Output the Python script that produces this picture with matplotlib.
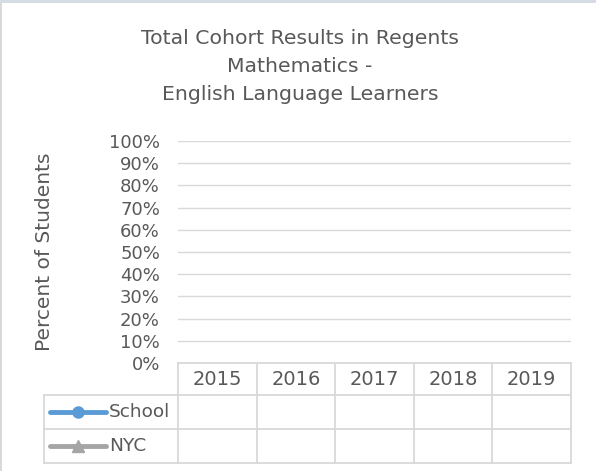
import numpy as np
import matplotlib.pyplot as plt
from matplotlib.lines import Line2D
from matplotlib.patches import Rectangle
from matplotlib.transforms import blended_transform_factory

years = ["2015", "2016", "2017", "2018", "2019"]
series = ["School", "NYC"]
school = [np.nan] * 5
nyc = [np.nan] * 5
yticks = np.arange(0, 1.01, 0.1)

colors = {"School": "#5B9BD5", "NYC": "#A5A5A5"}
markers = {"School": "o", "NYC": "^"}
txt = "#595959"
grid = "#D9D9D9"

plt.rcParams["font.family"] = ["DejaVu Sans"]

W, H = 596, 471
fig = plt.figure(figsize=(W / 100, H / 100), dpi=100)


def fx(px):
    return px / W


def fy(py):
    return 1 - py / H


# plot area in pixels
px0, px1, py_top, py_bot = 178, 571, 141, 363
ax = fig.add_axes([fx(px0), fy(py_bot), (px1 - px0) / W, (py_bot - py_top) / H])
ax.set_ylim(0, 1)
ax.set_xlim(-0.5, 4.5)
ax.set_yticks(yticks)
ax.set_yticklabels([f"{int(round(v * 100))}%" for v in yticks], color=txt, fontsize=13)
ax.tick_params(axis="y", length=0, pad=13)
ax.set_xticks([])
for s in ax.spines.values():
    s.set_visible(False)
ax.grid(axis="y", color=grid, linewidth=1.0)
ax.set_axisbelow(True)

x = np.arange(len(years))
ax.plot(x, school, color=colors["School"], marker="o")
ax.plot(x, nyc, color=colors["NYC"], marker="^")

ax.set_ylabel("Percent of Students", color=txt, fontsize=14.5)
ax.yaxis.set_label_coords((54 - px0) / (px1 - px0), 0.5)

# data table below the plot
tx0, tx1 = 44, 571
ty_head, ty_rows = 363, [395, 429, 463]


def hline(y, a, b):
    fig.add_artist(Line2D([fx(a), fx(b)], [fy(y), fy(y)], transform=fig.transFigure,
                          color=grid, linewidth=1.3))


def vline(xp, a, b):
    fig.add_artist(Line2D([fx(xp), fx(xp)], [fy(a), fy(b)], transform=fig.transFigure,
                          color=grid, linewidth=1.3))


hline(ty_head, px0, tx1)
for yy in ty_rows:
    hline(yy, tx0, tx1)
vline(tx0, ty_rows[0], ty_rows[-1])
edges = np.linspace(px0, tx1, len(years) + 1)
for e in edges:
    vline(e, ty_head, ty_rows[-1])

tr = blended_transform_factory(ax.transData, fig.transFigure)
for xi, yr in zip(x, years):
    ax.text(xi, fy(379.5), yr, transform=tr, ha="center", va="center",
            color=txt, fontsize=14)

# legend keys and labels inside table rows
row_centers = [412, 446]
for name, yc in zip(series, row_centers):
    fig.add_artist(Line2D([fx(50), fx(106)], [fy(yc), fy(yc)], transform=fig.transFigure,
                          color=colors[name], linewidth=3.5, solid_capstyle="round"))
    fig.add_artist(Line2D([fx(78)], [fy(yc)], transform=fig.transFigure,
                          color=colors[name], marker=markers[name], markersize=8,
                          linestyle="none"))
    fig.text(fx(109), fy(yc), name, ha="left", va="center", color=txt, fontsize=13.3)

fig.text(fx(300), fy(66.5),
         "Total Cohort Results in Regents\nMathematics -\nEnglish Language Learners",
         ha="center", va="center", color=txt, fontsize=14.7, linespacing=1.62)

# chart frame
fig.patches.append(Rectangle((0, fy(3)), 1, 3 / H, transform=fig.transFigure,
                             facecolor="#D6DCE4", edgecolor="none"))
fig.patches.append(Rectangle((0, 0), 1.5 / W, fy(3), transform=fig.transFigure,
                             facecolor="#D9D9D9", edgecolor="none"))

fig.savefig("out.png", dpi=100, facecolor="white")
